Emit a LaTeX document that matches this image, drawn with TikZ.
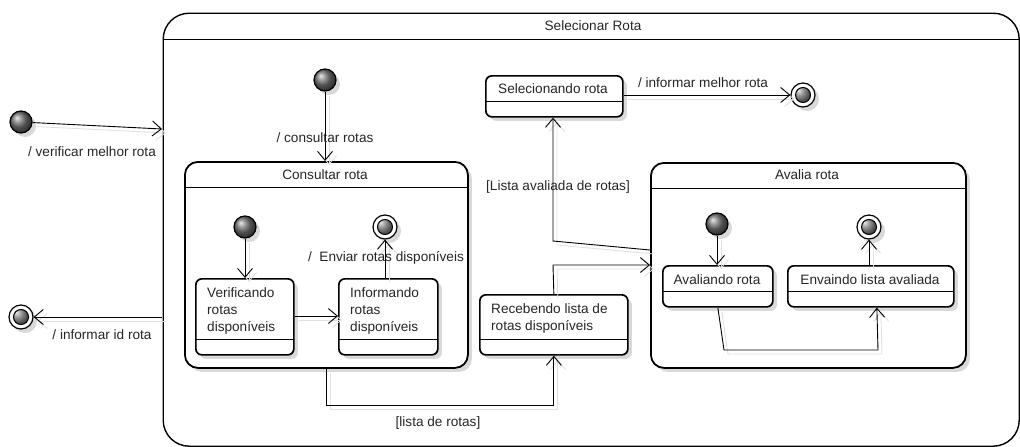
\documentclass[tikz,border=0pt]{standalone}
\usepackage{fontspec}
\setmainfont{Liberation Sans}
\usetikzlibrary{arrows.meta,shadows,calc}
\begin{document}
\begin{tikzpicture}[x=1pt,y=-1pt,
  every node/.style={font=\fontsize{13.6}{17}\selectfont, inner sep=0pt, text=black!85},
  shadowed/.style={drop shadow={shadow xshift=4pt,shadow yshift=-4pt,fill=black!15,opacity=1}},
  sstate/.style={draw, line width=1.7pt, rounded corners=6pt, fill=white, shadowed, anchor=north west,
    path picture={\draw[line width=1.1pt] ([yshift=15pt]path picture bounding box.south west) -- ([yshift=15pt]path picture bounding box.south east);}},
  compstate/.style={draw, line width=1.8pt, rounded corners=13pt, fill=white, shadowed, anchor=north west,
    path picture={\draw[line width=1.1pt] ([yshift=-26pt]path picture bounding box.north west) -- ([yshift=-26pt]path picture bounding box.north east);}},
  outerstate/.style={draw, line width=1.4pt, rounded corners=26pt, anchor=north west,
    path picture={\draw[line width=1pt] ([yshift=-26pt]path picture bounding box.north west) -- ([yshift=-26pt]path picture bounding box.north east);}},
  initst/.style={circle, draw, line width=1.2pt, minimum size=22pt, ball color=black!55, shadowed},
  finalst/.style={circle, draw, line width=1.2pt, minimum size=24pt, fill=white, shadowed,
    path picture={\shade[ball color=black!55] (path picture bounding box.center) circle (7.5pt);
      \draw[line width=1pt] (path picture bounding box.center) circle (7.5pt);}},
  opentip/.tip={Straight Barb[length=9pt,width=15pt,line width=0.9pt]},
  tr/.style={draw, line width=0.9pt, -opentip,
    preaction={draw=black!12, line width=0.9pt, -opentip, transform canvas={shift={(4pt,-4pt)}}}}
]
\useasboundingbox (0,0) rectangle (1020,447);

% outer composite state
\node[outerstate, minimum width=856pt, minimum height=433pt] (outer) at (162.5,12.5) {};
\node (outert) at (593,26) {Selecionar Rota};

% outside initial / final
\node[initst] (i0) at (21,122) {};
\node[finalst] (f0) at (21,317) {};
\coordinate (e0) at (162,129);
\coordinate (e1) at (162,317);
\draw[tr] (i0) -- (e0);
\node (l0) at (92,152) {/ verificar melhor rota};
\draw[tr] (e1) -- (f0);
\node (l1) at (102,335) {/ informar id rota};

% Consultar rota
\node[initst] (i1) at (325,80) {};
\node[compstate, minimum width=283pt, minimum height=206pt] (cons) at (184,161) {};
\node (const) at (325,175) {Consultar rota};
\draw[tr] (i1) -- (i1 |- cons.north);
\node (l2) at (325,138) {/ consultar rotas};

\node[initst] (i2) at (245,227) {};
\node[finalst] (f2) at (385,227) {};
\node[sstate, minimum width=98pt, minimum height=76pt] (verif) at (195,278) {};
\node[anchor=north west, align=left] (veriftxt) at (207,287) {Verificando\\rotas\\disponíveis};
\node[sstate, minimum width=99pt, minimum height=76pt] (inf) at (338,278) {};
\node[anchor=north west, align=left] (inftxt) at (350,287) {Informando\\rotas\\disponíveis};
\draw[tr] (i2) -- (i2 |- verif.north);
\draw[tr] (verif.east |- 0,316) -- (inf.west |- 0,316);
\draw[tr] (inf.north -| f2) -- (f2);
\node (l3) at (386,258) {/\ \ Enviar rotas disponíveis};

% Recebendo
\node[sstate, minimum width=148pt, minimum height=60pt] (receb) at (479,294) {};
\node[anchor=north west, align=left] (recebtxt) at (491,303) {Recebendo lista de\\rotas disponíveis};

% Selecionando
\node[sstate, minimum width=137pt, minimum height=41pt] (sel) at (485,75) {};
\node (seltxt) at (553,89) {Selecionando rota};
\node[finalst] (f1) at (803,95) {};
\draw[tr] (sel.east |- f1) -- (f1);
\node (l4) at (703,83) {/ informar melhor rota};

% Avalia rota
\node[compstate, minimum width=315pt, minimum height=205pt] (aval) at (650,162) {};
\node (avalt) at (807,175) {Avalia rota};
\node[initst] (i3) at (717,224) {};
\node[finalst] (f3) at (869,227) {};
\node[sstate, minimum width=110pt, minimum height=41pt] (avd) at (662,265) {};
\node (avdt) at (717,280) {Avaliando rota};
\node[sstate, minimum width=166pt, minimum height=41pt] (env) at (787,265) {};
\node (envt) at (870,280) {Envaindo lista avaliada};
\draw[tr] (i3) -- (i3 |- avd.north);
\draw[tr] (env.north -| f3) -- (f3);
\coordinate (c1) at (724,350);
\coordinate (c2) at (878,350);
\draw[tr] (avd.south) -- (c1) -- (c2) -- ([xshift=6pt]env.south);

% Avalia -> Selecionando
\coordinate (c3) at (553,241);
\draw[tr] (aval.west |- 0,250) -- (c3) -- (c3 |- sel.south);
\node (l5) at (558,187) {[Lista avaliada de rotas]};

% Recebendo -> Avalia
\coordinate (c4) at (553,265);
\draw[tr] (receb.north) -- (c4) -- (c4 -| aval.west);

% Consultar -> Recebendo
\coordinate (c5) at (325,405);
\draw[tr] (cons.south) -- (cons.south |- c5) -- (c5 -| receb.south) -- (receb.south);
\node (l6) at (438,423) {[lista de rotas]};
\end{tikzpicture}
\end{document}
